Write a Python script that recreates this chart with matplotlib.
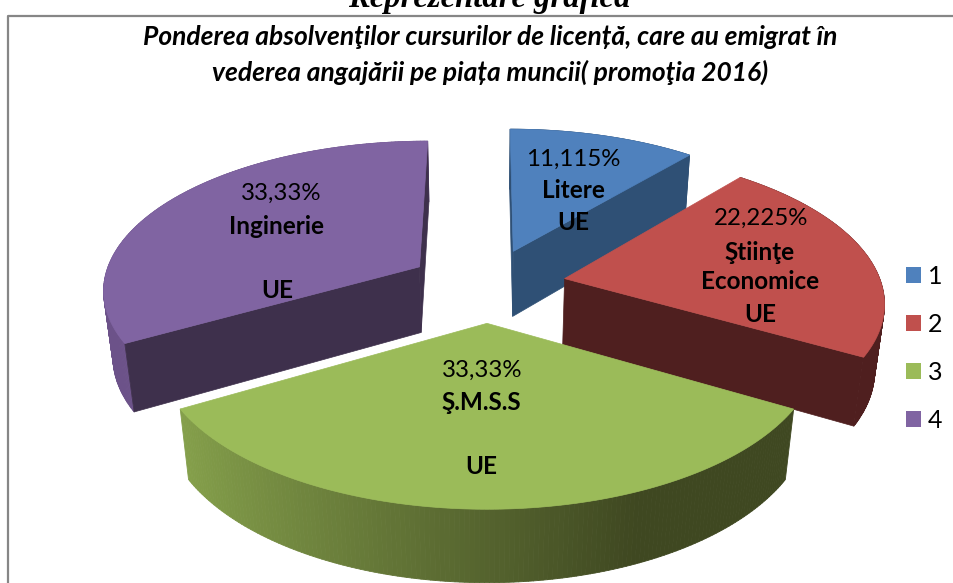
import numpy as np
import matplotlib
matplotlib.use('Agg')
import matplotlib.pyplot as plt
from matplotlib.collections import PolyCollection
from matplotlib.colors import to_rgb
from matplotlib.patches import Patch

plt.rcParams['font.family'] = ['Lato', 'DejaVu Sans']

categories = ['1', '2', '3', '4']
shares = [11.115, 22.225, 33.33, 33.33]
pct_labels = ['11,115%', '22,225%', '33,33%', '33,33%']
names = ['Litere', 'Ştiinţe\nEconomice', 'Ş.M.S.S', 'Inginerie']
place = ['UE', 'UE', 'UE', 'UE']
title = 'Ponderea absolvenţilor cursurilor de licență, care au emigrat în\nvederea angajării pe piața muncii( promoţia 2016)'
top_title = 'Reprezentare grafică'

top_cols = ['#4F81BD', '#C0504D', '#9BBB59', '#8064A2']
cut_cols = ['#2F5075', '#4F1F1F', '#3F4821', '#3E304C']
wall_light = ['#2F5075', '#4F1F1F', '#85A04B', '#6C5289']
wall_dark = ['#2F5075', '#4F1F1F', '#3F4821', '#6C5289']

# pie projection, pixels
CX, CY = 487, 285
A, B = 317, 148
K = 0.14
M = 0.025
DEPTH = 68
EXPLODE = 0.25


def proj(u, v, z=0.0):
    s = 1 + K*v + M*z
    return CX + A*u/s, CY + (-B*v + DEPTH*z)/s


def mix(c1, c2, t):
    c1, c2 = np.array(to_rgb(c1)), np.array(to_rgb(c2))
    return tuple(c1 + (c2 - c1)*t)


fig = plt.figure(figsize=(9.54, 5.83), dpi=100)
ax = fig.add_axes([0, 0, 1, 1])
ax.set_xlim(0, 954)
ax.set_ylim(583, 0)
ax.axis('off')

# frame of the chart, runs off the picture right and below
ax.plot([8, 8, 960], [590, 15.5, 15.5], color='#868686', lw=1.6)

# clockwise from the top
edges = np.concatenate([[0], np.cumsum(shares)]) / np.sum(shares) * 2*np.pi

slices = []
for i in range(len(shares)):
    a0, a1 = edges[i], edges[i+1]
    mid = (a0 + a1)/2
    slices.append((i, a0, a1, EXPLODE*np.sin(mid), EXPLODE*np.cos(mid)))


def cut_face(i, a, ox, oy):
    xa, ya = proj(np.array([ox, ox + np.sin(a)]), np.array([oy, oy + np.cos(a)]), 0)
    xb, yb = proj(np.array([ox, ox + np.sin(a)]), np.array([oy, oy + np.cos(a)]), 1)
    ax.fill([xa[0], xa[1], xb[1], xb[0]], [ya[0], ya[1], yb[1], yb[0]], color=cut_cols[i], lw=0.5)


def draw_slice(i, a0, a1, ox, oy):
    th = np.linspace(a0, a1, 160)
    u = ox + np.sin(th)
    v = oy + np.cos(th)

    # outer wall in small pieces, for the shading
    x0, y0 = proj(u, v, 0)
    x1, y1 = proj(u, v, 1)
    quads = []
    cols = []
    for j in range(len(th)-1):
        quads.append([(x0[j], y0[j]), (x0[j+1], y0[j+1]), (x1[j+1], y1[j+1]), (x1[j], y1[j])])
        t = np.clip((np.sin(th[j]) + 0.87)/1.27, 0, 1)
        cols.append(mix(wall_light[i], wall_dark[i], t))
    ax.add_collection(PolyCollection(quads, facecolors=cols, edgecolors=cols, linewidths=0.6))

    # only the cut faces turned to the viewer
    if np.sin(a0) < 1e-6:
        cut_face(i, a0, ox, oy)
    if np.sin(a1) > -1e-6:
        cut_face(i, a1, ox, oy)

    # top
    tx = np.concatenate([[proj(ox, oy)[0]], x0])
    ty = np.concatenate([[proj(ox, oy)[1]], y0])
    ax.fill(tx, ty, color=top_cols[i], lw=0.5)


# back to front
for k in [0, 3, 1, 2]:
    draw_slice(*slices[k])

ax.text(489, 7, top_title, family='Liberation Serif', fontsize=23.5, fontweight='bold',
        fontstyle='italic', ha='center', va='baseline')
ax.text(490, 55, title, fontsize=19, fontweight='bold', fontstyle='italic', ha='center',
        va='center', linespacing=1.52)

# slice labels
pct_pos = [(573, 159), (761, 218), (482, 370), (281, 193)]
name_pos = [(573, 191), (760, 267), (481, 403), (277, 227)]
place_pos = [(573, 223), (760, 315), (481, 467), (277, 290)]
for i in range(4):
    ax.text(*pct_pos[i], pct_labels[i], fontsize=17.3, ha='center', va='center')
    ax.text(*name_pos[i], names[i], fontsize=17.5, fontweight='bold', ha='center', va='center', linespacing=1.27)
    ax.text(*place_pos[i], place[i], fontsize=17.5, fontweight='bold', ha='center', va='center')

handles = [Patch(facecolor=c, edgecolor='none') for c in top_cols]
ax.legend(handles, categories, loc='center left', bbox_to_anchor=(906/954, 1 - 348/583), frameon=False,
          fontsize=18, handlelength=0.6, handleheight=0.6, labelspacing=1.0,
          handletextpad=0.28, borderpad=0, borderaxespad=0)

fig.savefig('out.png', dpi=100)
